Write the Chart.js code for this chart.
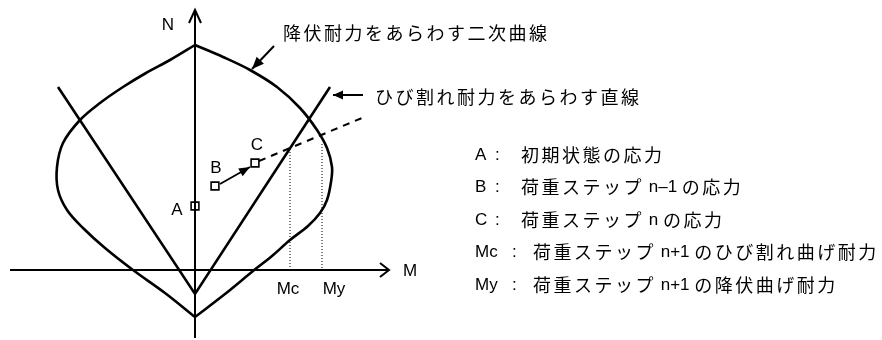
<!DOCTYPE html>
<html>
<head>
<meta charset="utf-8">
<script src="https://cdn.jsdelivr.net/npm/chart.js@4.4.0/dist/chart.umd.min.js"></script>
<style>
  body { margin: 0; background: #fff; }
  canvas { display: block; }
</style>
</head>
<body>
<canvas id="chart" width="882" height="340"></canvas>
<script>
// M-N diagram, M to the right, N upward, origin where the axes cross
const yieldRight = [[0,22.5],[2.8,21.3],[5.5,20],[8.2,18.3],[10.5,16.2],[12.2,14],[13.2,12.2],[13.7,10.3],[13.6,8.8],[13.2,7],[12.5,5.7],[11.3,4.4],[9.5,3],[7.7,1.4],[5.8,-0.1],[3,-2.4],[0,-4.7]]
const yieldLeft = [[0,22.5],[-2.5,21],[-4.9,19.7],[-7.2,18.3],[-9.5,16.7],[-11.5,15],[-13.2,12.7],[-13.8,10.3],[-13.7,8],[-12.8,6],[-11.2,4.2],[-9,2.2],[-6.2,0],[-3,-2.3],[0,-4.7]]
const crackLines = [[-13.7,18.3],[0,-2.4],[13.5,18.3]]
const stressPoints = [[0,6.4],[2,8.4],[6,10.7]]
const stressLabels = ['A','B','C']
const trendLine = [[6.4,10.9],[16.7,15.2]]
const stepArrow = [[2.5,8.6],[5.5,10.3]]
const mcLine = [[9.5,12.1],[9.5,0]]
const myLine = [[12.7,12.6],[12.7,0]]
const nAxis = [[0,-6.8],[0,26]]
const mAxis = [[-18.5,0],[19.4,0]]
const yieldNoteArrow = [[7.9,22.4],[5.7,20.1]]
const crackNoteArrow = [[16.8,17.5],[13.8,17.5]]

const yieldNote = '降伏耐力をあらわす二次曲線'
const crackNote = 'ひび割れ耐力をあらわす直線'
const legendKeys = ['A','B','C','Mc','My']
const legendTexts = ['初期状態の応力','荷重ステップ n–1 の応力','荷重ステップ n の応力','荷重ステップ n+1 のひび割れ曲げ耐力','荷重ステップ n+1 の降伏曲げ耐力']

const pts = (arr) => arr.map(p => ({x: p[0], y: p[1]}))

const LATIN = '17px "Liberation Sans", Arial, sans-serif'
const CJK = '18px "Noto Sans CJK JP", sans-serif'

function line(data, width, extra) {
    return Object.assign({
        data: pts(data),
        showLine: true,
        borderColor: '#000',
        borderWidth: width,
        pointRadius: 0,
        fill: false,
        tension: 0
    }, extra || {})
}

function drawMixed(ctx, text, x, y) {
    for (const ch of text) {
        if (ch.charCodeAt(0) >= 0x3000) {
            ctx.font = CJK
            ctx.fillText(ch, x, y)
            x += 20.5
        } else {
            ctx.font = LATIN
            ctx.fillText(ch, x, y)
            x += ctx.measureText(ch).width
        }
    }
}

function drawHead(ctx, a, b, head) {
    const ang = Math.atan2(b.y - a.y, b.x - a.x)
    const cx = Math.cos(ang), sy = Math.sin(ang)
    const bx = b.x - head.len * cx, by = b.y - head.len * sy
    const p1 = [bx - head.w * sy, by + head.w * cx]
    const p2 = [bx + head.w * sy, by - head.w * cx]
    ctx.save()
    ctx.strokeStyle = '#000'
    ctx.fillStyle = '#000'
    ctx.lineWidth = 2
    ctx.setLineDash([])
    ctx.beginPath()
    ctx.moveTo(p1[0], p1[1])
    ctx.lineTo(b.x, b.y)
    ctx.lineTo(p2[0], p2[1])
    if (head.type === 'filled') {
        ctx.closePath()
        ctx.fill()
    } else {
        ctx.stroke()
    }
    ctx.restore()
}

const annotations = {
    id: 'annotations',
    afterDatasetsDraw(chart) {
        const ctx = chart.ctx
        const xs = chart.scales.x, ys = chart.scales.y
        const px = (u) => xs.getPixelForValue(u)
        const py = (v) => ys.getPixelForValue(v)

        chart.data.datasets.forEach((ds, i) => {
            if (!ds.arrow) return
            const el = chart.getDatasetMeta(i).data
            drawHead(ctx, el[el.length - 2], el[el.length - 1], ds.arrow)
        })

        ctx.save()
        ctx.fillStyle = '#000'
        ctx.textBaseline = 'middle'
        ctx.font = LATIN
        ctx.textAlign = 'center'
        ctx.fillText('N', px(-2.7), py(24.5))
        ctx.fillText('M', px(21.5), py(-0.1))
        ctx.fillText('Mc', px(mcLine[0][0] - 0.2), py(-1.9))
        ctx.fillText('My', px(myLine[0][0] + 1.2), py(-1.9))
        const lblOff = [[-1.8, -0.4], [0.1, 1.8], [0.2, 1.8]]
        stressLabels.forEach((s, i) => {
            ctx.fillText(s, px(stressPoints[i][0] + lblOff[i][0]), py(stressPoints[i][1] + lblOff[i][1]))
        })

        ctx.textAlign = 'left'
        drawMixed(ctx, yieldNote, px(8.8), py(23.7))
        drawMixed(ctx, crackNote, px(18), py(17.3))

        legendKeys.forEach((k, i) => {
            const y = 155 + i * 32.5
            const wide = k.length > 1
            ctx.font = LATIN
            ctx.fillText(k, 475, y)
            ctx.fillText(':', wide ? 512 : 495, y)
            drawMixed(ctx, legendTexts[i], wide ? 533 : 521, y)
        })
        ctx.restore()
    }
}

new Chart(document.getElementById('chart').getContext('2d'), {
    type: 'scatter',
    data: {
        datasets: [
            {
                data: pts(stressPoints),
                pointStyle: 'rect',
                pointRadius: 5.5,
                pointBorderWidth: 1.6,
                pointBackgroundColor: 'rgba(0,0,0,0)',
                pointBorderColor: '#000',
                showLine: false
            },
            line(trendLine, 2, {borderDash: [7, 6]}),
            line(stepArrow, 1.8, {arrow: {type: 'filled', len: 11, w: 4.5}}),
            line(crackLines, 2.6),
            line(yieldRight, 2.6, {tension: 0.35}),
            line(yieldLeft, 2.6, {tension: 0.35}),
            line(nAxis, 2, {arrow: {type: 'open', len: 13, w: 6}}),
            line(mAxis, 2, {arrow: {type: 'open', len: 9, w: 7}}),
            line(mcLine, 1, {borderDash: [1, 2]}),
            line(myLine, 1, {borderDash: [1, 2]}),
            line(yieldNoteArrow, 2, {arrow: {type: 'filled', len: 12, w: 5}}),
            line(crackNoteArrow, 2, {arrow: {type: 'filled', len: 10, w: 4.5}})
        ]
    },
    options: {
        responsive: false,
        animation: false,
        devicePixelRatio: 1,
        layout: {padding: 0, autoPadding: false},
        scales: {
            x: {type: 'linear', min: -19.5, max: 68.7, display: false},
            y: {type: 'linear', min: -7, max: 27, display: false}
        },
        plugins: {
            legend: {display: false},
            tooltip: {enabled: false}
        }
    },
    plugins: [annotations]
})
</script>
</body>
</html>
